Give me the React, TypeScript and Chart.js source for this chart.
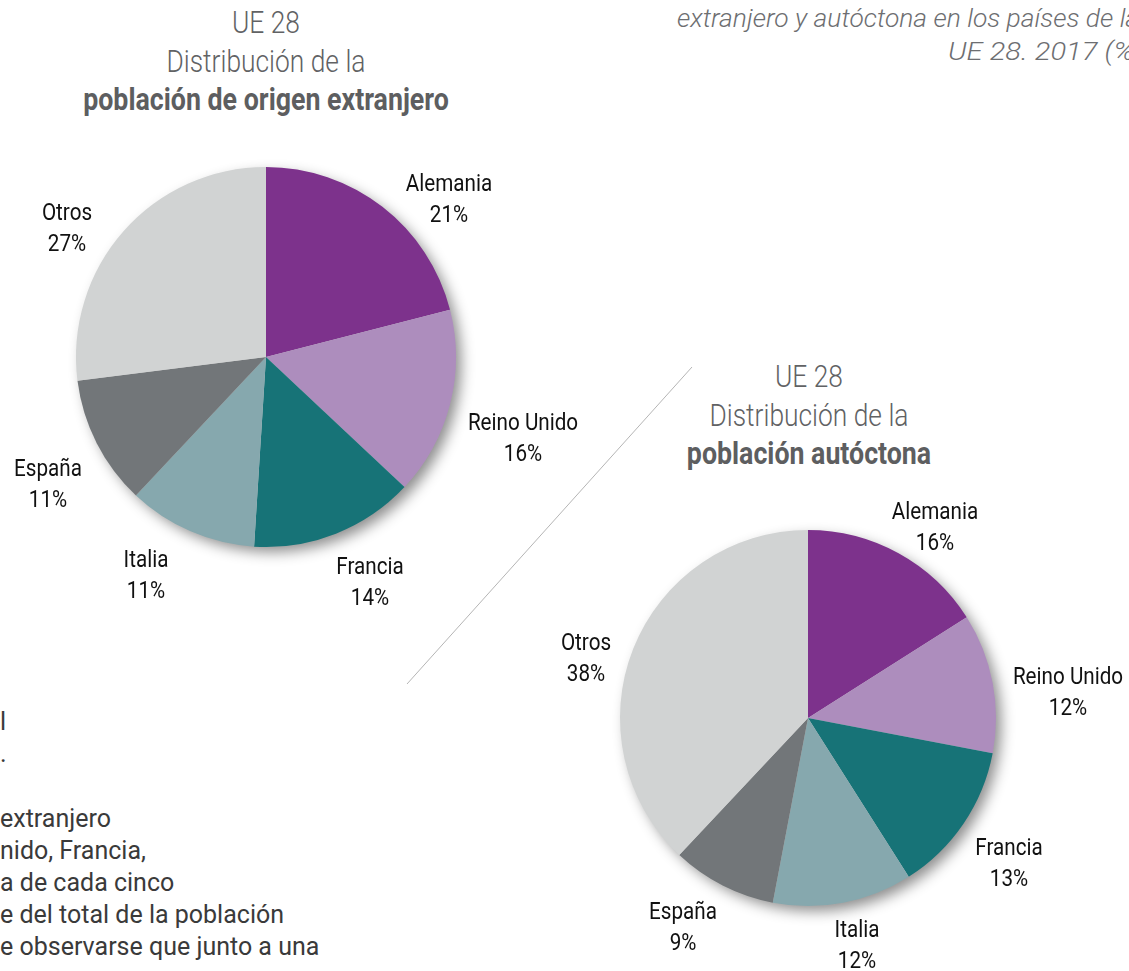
import React, { useEffect, useLayoutEffect, useRef, useState } from "react";
import { Chart, registerables } from "chart.js";

Chart.register(...registerables);

// ---- Data ----
const countries = ["Alemania", "Reino Unido", "Francia", "Italia", "España", "Otros"];
const foreignShare = [21, 16, 14, 11, 11, 27];
const nativeShare = [16, 12, 13, 12, 9, 38];
const sliceColors = ["#7D328C", "#AD8DBD", "#177377", "#86A8AE", "#727679", "#D1D3D3"];

const titleTop = "UE 28";
const titleMid = "Distribución de la";
const foreignTitle = "población de origen extranjero";
const nativeTitle = "población autóctona";
const headerLines = ["extranjero y autóctona en los países de la", "UE 28. 2017 (%)"];
const bodyLines = ["l", ".", "", "extranjero", "nido, Francia,", "a de cada cinco", "e del total de la población", "e observarse que junto a una"];

// ---- Layout (positions only) ----
const labelPos1 = [
  [449, 184], [523, 423], [370, 567], [146, 560], [48, 469], [67, 213],
];
const labelPos2 = [
  [935, 512], [1068, 677], [1009, 848], [857, 930], [683, 912], [586, 643],
];

const FONT = "Roboto, 'Liberation Sans', sans-serif";

const shadowPlugin = {
  id: "pieShadow",
  beforeDatasetsDraw(chart: any) {
    const arc = chart.getDatasetMeta(0).data[0];
    if (!arc) return;
    const { x, y, outerRadius } = arc.getProps(["x", "y", "outerRadius"], true);
    const ctx = chart.ctx;
    ctx.save();
    ctx.shadowColor = "rgba(0,0,0,0.45)";
    ctx.shadowBlur = 14;
    ctx.shadowOffsetX = 6;
    ctx.shadowOffsetY = 6;
    ctx.beginPath();
    ctx.arc(x, y, outerRadius - 1, 0, Math.PI * 2);
    ctx.fillStyle = "#cccccc";
    ctx.fill();
    ctx.restore();
  },
};

function Pie({ values, cx, cy, radius }: { values: number[]; cx: number; cy: number; radius: number }) {
  const ref = useRef<HTMLCanvasElement | null>(null);
  const size = 460;
  useEffect(() => {
    if (!ref.current) return;
    const chart = new Chart(ref.current, {
      type: "pie",
      data: {
        labels: countries,
        datasets: [
          {
            data: values,
            backgroundColor: sliceColors,
            borderWidth: 0,
          },
        ],
      },
      options: {
        responsive: false,
        animation: false,
        radius: radius,
        layout: { padding: 0 },
        plugins: { legend: { display: false }, tooltip: { enabled: false }, title: { display: false } },
      } as any,
      plugins: [shadowPlugin],
    });
    return () => chart.destroy();
  }, [values, radius]);
  return (
    <canvas
      ref={ref}
      width={size}
      height={size}
      style={{ position: "absolute", left: cx - size / 2, top: cy - size / 2, width: size, height: size }}
    />
  );
}

// Text anchored at x (centre or left) and centred on cy, horizontally scaled to a given width
function FitText({
  text, x, cy, width, size, weight = 400, color, lh = 40, anchor = "center", italic = false,
}: {
  text: string; x: number; cy: number; width: number; size: number; weight?: number; color: string;
  lh?: number; anchor?: "center" | "left"; italic?: boolean;
}) {
  const ref = useRef<HTMLDivElement | null>(null);
  const [s, setS] = useState(1);
  useLayoutEffect(() => {
    const measure = () => {
      if (ref.current && ref.current.offsetWidth) setS(width / ref.current.offsetWidth);
    };
    measure();
    if ((document as any).fonts) (document as any).fonts.ready.then(measure);
  }, [text, width]);
  return (
    <div
      ref={ref}
      style={{
        position: "absolute",
        left: x,
        top: cy - lh / 2,
        transform: anchor === "center" ? `translateX(-50%) scaleX(${s})` : `scaleX(${s})`,
        transformOrigin: anchor === "center" ? "50% 50%" : "0 50%",
        whiteSpace: "nowrap",
        fontFamily: FONT,
        fontSize: size,
        fontWeight: weight,
        fontStyle: italic ? "italic" : "normal",
        lineHeight: `${lh}px`,
        color,
      }}
    >
      {text}
    </div>
  );
}

function Labels({ values, pos }: { values: number[]; pos: number[][] }) {
  return (
    <>
      {countries.map((c, i) => (
        <div
          key={c}
          style={{
            position: "absolute",
            left: pos[i][0],
            top: pos[i][1] - 16,
            transform: "translateX(-50%) scaleX(0.86)",
            textAlign: "center",
            whiteSpace: "nowrap",
            fontFamily: FONT,
            fontSize: 24,
            lineHeight: "31px",
            color: "#111111",
          }}
        >
          <div>{c}</div>
          <div>{values[i]}%</div>
        </div>
      ))}
    </>
  );
}

function Title({ cx, cy, bold, boldWidth }: { cx: number; cy: number; bold: string; boldWidth: number }) {
  return (
    <>
      <FitText text={titleTop} x={cx} cy={cy} width={68} size={31} weight={300} color="#616264" />
      <FitText text={titleMid} x={cx} cy={cy + 39} width={199} size={31} weight={300} color="#616264" />
      <FitText text={bold} x={cx} cy={cy + 77} width={boldWidth} size={31} weight={700} color="#5d5e60" />
    </>
  );
}

export default function App() {
  return (
    <div
      style={{
        position: "absolute",
        left: 0,
        top: 0,
        width: 1129,
        height: 971,
        overflow: "hidden",
        background: "#ffffff",
      }}
    >
      <svg width={1129} height={971} style={{ position: "absolute", left: 0, top: 0 }}>
        <line x1={692} y1={367} x2={407} y2={684} stroke="#b5b5b5" strokeWidth={1} />
      </svg>

      <Pie values={foreignShare} cx={266} cy={357} radius={190} />
      <Pie values={nativeShare} cx={808} cy={718} radius={188} />

      <Title cx={266} cy={23} bold={foreignTitle} boldWidth={366} />
      <Title cx={809} cy={377} bold={nativeTitle} boldWidth={244} />

      <Labels values={foreignShare} pos={labelPos1} />
      <Labels values={nativeShare} pos={labelPos2} />

      <FitText text={headerLines[0]} x={677} cy={18} width={462} size={26} weight={300} color="#6D6E71" anchor="left" italic lh={32} />
      <FitText text={headerLines[1]} x={948} cy={51} width={196} size={26} weight={300} color="#6D6E71" anchor="left" italic lh={32} />

      {bodyLines.map((t, i) => (
        <div
          key={i}
          style={{
            position: "absolute",
            left: 0,
            top: 722 + i * 32.2 - 16,
            whiteSpace: "nowrap",
            fontFamily: FONT,
            fontSize: 25,
            lineHeight: "32px",
            color: "#3a3a3a",
          }}
        >
          {t}
        </div>
      ))}
    </div>
  );
}
